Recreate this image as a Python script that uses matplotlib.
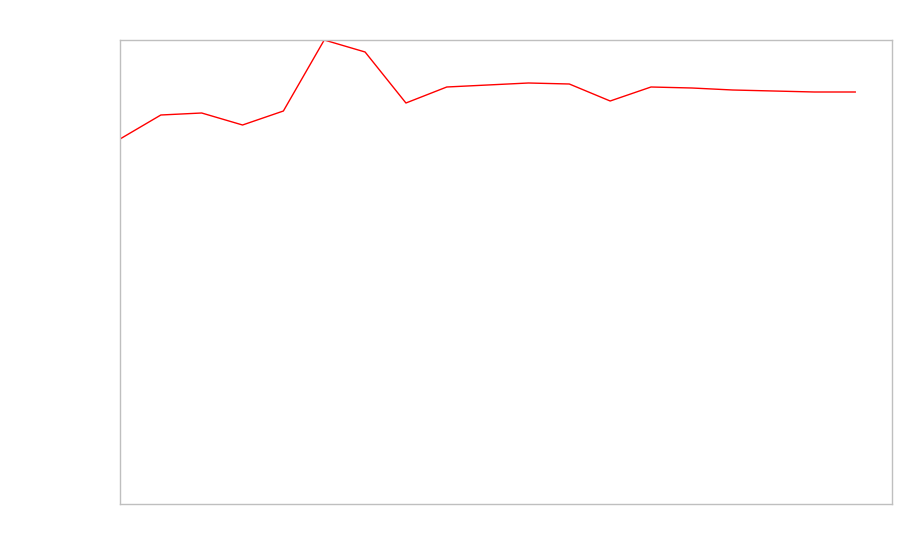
from matplotlib import pyplot as plt

x_vals = list(range(19))
y_vals = [365, 389, 391, 379, 393, 464, 452, 401, 417, 419, 421, 420, 403, 417, 416, 414, 413, 412, 412]

fig = plt.figure(figsize=(9, 5.6), dpi=100)
ax = fig.add_axes([120/900, 56/560, 772/900, 464/560])

ax.plot(x_vals, y_vals, color='red', linewidth=1)

ax.set_xlim(0, 18.9)
ax.set_ylim(0, 464)
ax.set_xticks([])
ax.set_yticks([])
for s in ax.spines.values():
    s.set_color('#bfbfbf')
    s.set_linewidth(1)

fig.savefig('out.png', dpi=100)
